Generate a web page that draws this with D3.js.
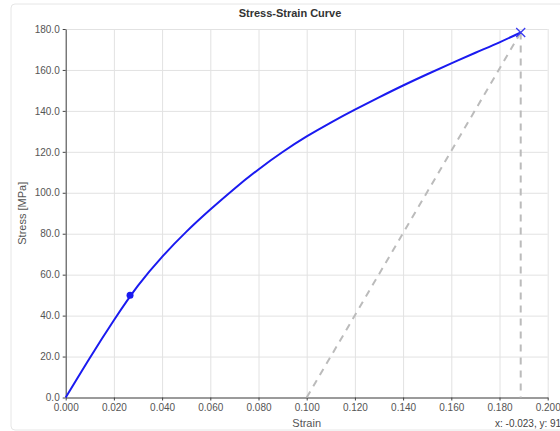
<!DOCTYPE html>
<html>
<head>
<meta charset="utf-8">
<script src="https://d3js.org/d3.v7.min.js"></script>
<style>
    body { margin: 0; background: #fff; font-family: "Liberation Sans", Arial, sans-serif; }
    .grid line { stroke: #e2e2e2; }
    .grid path { stroke: none; }
    .axis path, .axis line { stroke: #444; }
    .axis text { fill: #555; font-size: 10px; font-family: "Liberation Sans", Arial, sans-serif; }
</style>
</head>
<body>
<svg width="560" height="431"></svg>
<script>

// curve
var strain = [0, 0.01, 0.02, 0.03, 0.04, 0.05, 0.06, 0.07, 0.08, 0.09, 0.10,
              0.11, 0.12, 0.13, 0.14, 0.15, 0.16, 0.17, 0.18, 0.1888];
var stress = [0, 19.3, 37.7, 54.6, 68.7, 80.9, 91.8, 102.0, 111.4, 119.9, 127.5,
              134.3, 140.6, 146.6, 152.4, 157.9, 163.2, 168.4, 173.5, 178.3];

var yieldPoint = [0.0267, 50];
var ultimatePoint = [0.1888, 178.3];
var offsetStrain = 0.100;   // where the unloading line hits zero

var xTicks = [0, 0.02, 0.04, 0.06, 0.08, 0.10, 0.12, 0.14, 0.16, 0.18, 0.20];
var yTicks = [0, 20, 40, 60, 80, 100, 120, 140, 160, 180];

var svg = d3.select("svg");

// panel frame
svg.append("rect")
    .attr("x", 11).attr("y", 4)
    .attr("width", 560).attr("height", 426)
    .attr("rx", 4)
    .attr("fill", "#fff")
    .attr("stroke", "#e6e6e6");

var mLeft = 65.7, mRight = 547.7, mTop = 29, mBottom = 397.5;

var x = d3.scaleLinear().domain([0, 0.2]).range([mLeft, mRight]);
var y = d3.scaleLinear().domain([0, 180]).range([mBottom, mTop]);

// gridlines
svg.append("g")
    .attr("class", "grid")
    .attr("transform", "translate(0," + mBottom + ")")
    .call(d3.axisBottom(x).tickValues(xTicks).tickSize(-(mBottom - mTop)).tickFormat(""));
svg.append("g")
    .attr("class", "grid")
    .attr("transform", "translate(" + mLeft + ",0)")
    .call(d3.axisLeft(y).tickValues(yTicks).tickSize(-(mRight - mLeft)).tickFormat(""));

// axes
svg.append("g")
    .attr("class", "axis")
    .attr("transform", "translate(0," + mBottom + ")")
    .call(d3.axisBottom(x).tickValues(xTicks).tickSize(3).tickSizeOuter(0).tickFormat(d3.format(".3f")));
svg.append("g")
    .attr("class", "axis")
    .attr("transform", "translate(" + mLeft + ",0)")
    .call(d3.axisLeft(y).tickValues(yTicks).tickSize(3).tickSizeOuter(0).tickFormat(d3.format(".1f")));

// dashed helper lines
svg.append("line")
    .attr("x1", x(offsetStrain)).attr("y1", y(0))
    .attr("x2", x(ultimatePoint[0])).attr("y2", y(ultimatePoint[1]))
    .attr("stroke", "#bbb").attr("stroke-width", 2)
    .attr("stroke-dasharray", "7,6");
svg.append("line")
    .attr("x1", x(ultimatePoint[0])).attr("y1", y(ultimatePoint[1]))
    .attr("x2", x(ultimatePoint[0])).attr("y2", y(0))
    .attr("stroke", "#bbb").attr("stroke-width", 2)
    .attr("stroke-dasharray", "7,6");

// the curve
var pts = strain.map(function(d, i) { return [d, stress[i]]; });
var line = d3.line()
    .x(function(d) { return x(d[0]); })
    .y(function(d) { return y(d[1]); })
    .curve(d3.curveNatural);

svg.append("path")
    .datum(pts)
    .attr("d", line)
    .attr("fill", "none")
    .attr("stroke", "#1a1af0")
    .attr("stroke-width", 2);

// yield marker
svg.append("circle")
    .attr("cx", x(yieldPoint[0])).attr("cy", y(yieldPoint[1]))
    .attr("r", 3.5)
    .attr("fill", "#1a1af0");

// ultimate marker
var ux = x(ultimatePoint[0]), uy = y(ultimatePoint[1]), s = 4.5;
svg.append("path")
    .attr("d", "M" + (ux - s) + "," + (uy - s) + "L" + (ux + s) + "," + (uy + s) +
               "M" + (ux - s) + "," + (uy + s) + "L" + (ux + s) + "," + (uy - s))
    .attr("stroke", "#3a3af0").attr("stroke-width", 1.3)
    .attr("fill", "none");

// titles
svg.append("text")
    .attr("x", 290).attr("y", 17)
    .attr("text-anchor", "middle")
    .style("font-size", "11px").style("font-weight", "bold").attr("fill", "#333")
    .text("Stress-Strain Curve");

svg.append("text")
    .attr("x", (mLeft + mRight) / 2).attr("y", 427)
    .attr("text-anchor", "middle")
    .style("font-size", "11px").attr("fill", "#555")
    .text("Strain");

svg.append("text")
    .attr("transform", "translate(26," + ((mTop + mBottom) / 2) + ") rotate(-90)")
    .attr("text-anchor", "middle")
    .style("font-size", "11px").attr("fill", "#555")
    .text("Stress [MPa]");

svg.append("text")
    .attr("x", 495).attr("y", 427)
    .style("font-size", "10px").attr("fill", "#444")
    .text("x: -0.023, y: 91");

</script>
</body>
</html>
